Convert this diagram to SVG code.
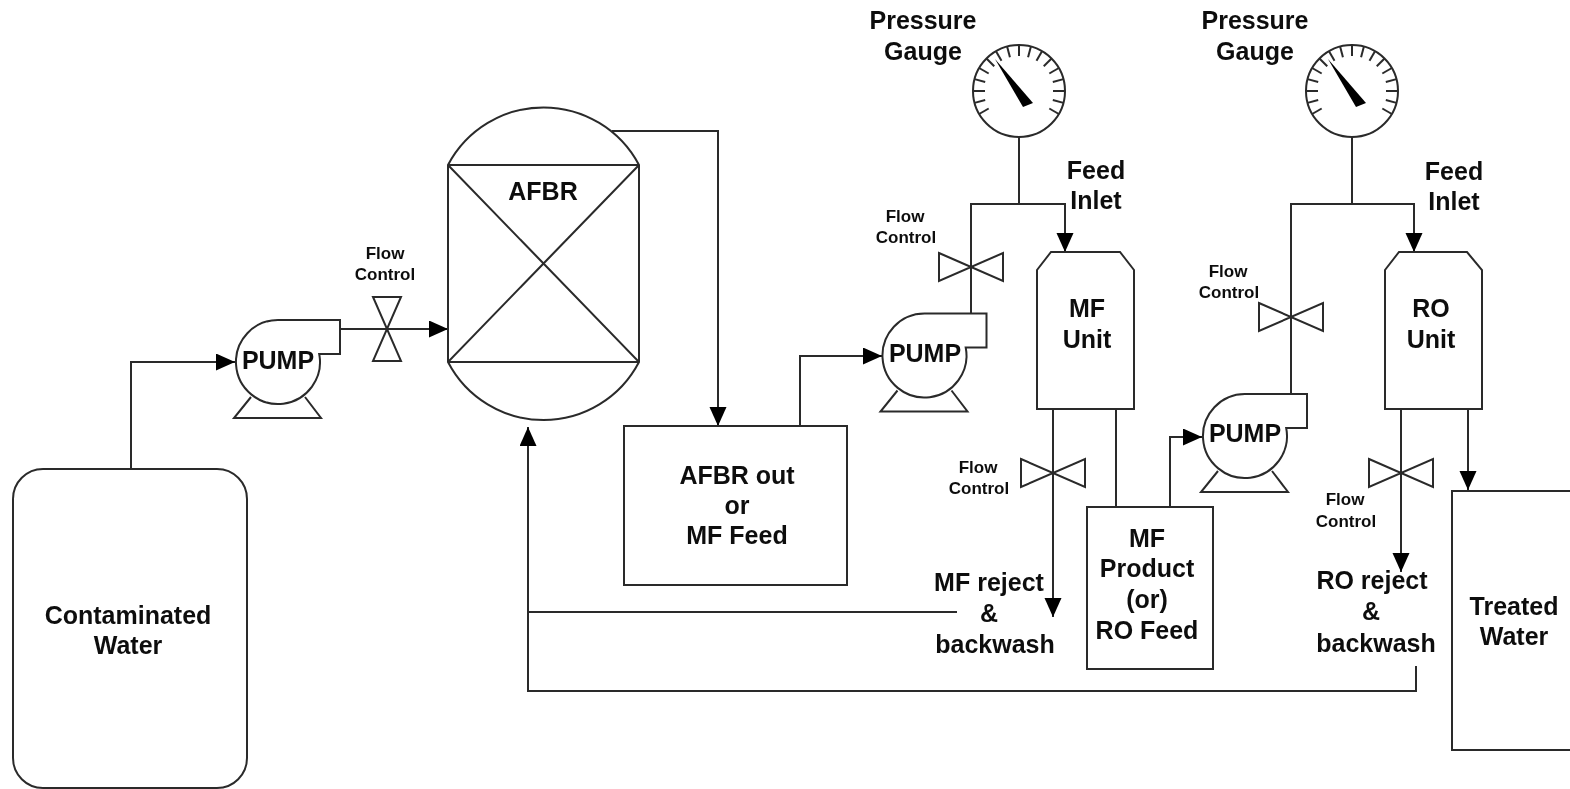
<svg xmlns="http://www.w3.org/2000/svg" width="1570" height="789" viewBox="0 0 1570 789">
<style>
.s{fill:none;stroke:#2a2a2a;stroke-width:2}
text{font-family:"Liberation Sans",Arial,sans-serif;font-weight:700;fill:#111;text-anchor:middle}
.l{font-size:25px}
.f{font-size:17px}
</style>
<defs>
<filter id="soft" filterUnits="userSpaceOnUse" x="0" y="0" width="1570" height="789"><feGaussianBlur stdDeviation="0.55"/></filter>
<marker id="a" markerUnits="userSpaceOnUse" markerWidth="20" markerHeight="18" refX="19" refY="8.500" orient="auto"><path d="M0 0L19 8.500L0 17Z" fill="#000"/></marker>
<g id="pump">
<path class="s" d="M0-42H62V-8H41.200A42 42 0 1 1 0-42Z"/>
<path class="s" d="M-27 35L-44 56H43L27 35"/>
</g>
<g id="gauge">
<circle class="s" r="46"/>
<path id="t" class="s" d="M0-46V-35"/>
<use href="#t" transform="rotate(15)"/><use href="#t" transform="rotate(30)"/><use href="#t" transform="rotate(45)"/><use href="#t" transform="rotate(60)"/><use href="#t" transform="rotate(75)"/><path class="s" d="M34 0H46"/><use href="#t" transform="rotate(105)"/><use href="#t" transform="rotate(120)"/>
<use href="#t" transform="rotate(-15)"/><use href="#t" transform="rotate(-30)"/><use href="#t" transform="rotate(-45)"/><use href="#t" transform="rotate(-60)"/><use href="#t" transform="rotate(-75)"/><path class="s" d="M-34 0H-46"/><use href="#t" transform="rotate(-105)"/><use href="#t" transform="rotate(-120)"/>
<path d="M-24-32L14 12L4 16Z" fill="#000"/>
</g>
<path id="vh" class="s" d="M-32-14L32 14V-14L-32 14Z"/>
<path id="vv" class="s" d="M-14-32H14L-14 32H14Z"/>
</defs>
<g id="diagram" filter="url(#soft)">
<g id="connectors" class="s">
<path d="M131 469V362H235" marker-end="url(#a)"/>
<path d="M340 329H448" marker-end="url(#a)"/>
<path d="M612 131H718V426" marker-end="url(#a)"/>
<path d="M800 426V356H882" marker-end="url(#a)"/>
<path d="M971 313V204H1065V252" marker-end="url(#a)"/>
<path d="M1019 136V204"/>
<path d="M1291 394V204H1414V252" marker-end="url(#a)"/>
<path d="M1352 136V204"/>
<path d="M1053 409V617" marker-end="url(#a)"/>
<path d="M1116 409V507"/>
<path d="M1170 507V437H1202" marker-end="url(#a)"/>
<path d="M1401 409V572" marker-end="url(#a)"/>
<path d="M1468 409V490" marker-end="url(#a)"/>
<path d="M957 612H528V427" marker-end="url(#a)"/>
<path d="M1416 666V691H528V612"/>
</g>

<g id="contaminated"><rect class="s" x="13" y="469" width="234" height="319" rx="30"/><text class="l" x="128" y="624">Contaminated</text><text class="l" x="128" y="654">Water</text></g>
<g id="pump1"><use href="#pump" x="278" y="362"/><text class="l" x="278" y="369">PUMP</text></g>
<g id="valve1"><use href="#vv" x="387" y="329"/><text class="f" x="385" y="259">Flow</text><text class="f" x="385" y="280">Control</text></g>
<g id="afbr"><path class="s" d="M448 165A108 108 0 0 1 639 165V362A107.600 107.600 0 0 1 448 362ZM448 165H639M448 362H639M448 165L639 362M639 165L448 362"/><text class="l" x="543" y="200">AFBR</text></g>
<g id="afbrout"><rect class="s" x="624" y="426" width="223" height="159"/><text class="l" x="737" y="484">AFBR out</text><text class="l" x="737" y="514">or</text><text class="l" x="737" y="544">MF Feed</text></g>
<g id="pump2"><use href="#pump" x="924.500" y="355.500"/><text class="l" x="925" y="362">PUMP</text></g>
<g id="valve2"><use href="#vh" x="971" y="267"/><text class="f" x="905" y="222">Flow</text><text class="f" x="906" y="243">Control</text></g>
<g id="gauge1"><use href="#gauge" x="1019" y="91"/><text class="l" x="923" y="29">Pressure</text><text class="l" x="923" y="60">Gauge</text></g>
<g id="feed1"><text class="l" x="1096" y="179">Feed</text><text class="l" x="1096" y="209">Inlet</text></g>
<g id="mf"><path class="s" d="M1051 252H1120L1134 270V409H1037V270Z"/><text class="l" x="1087" y="317">MF</text><text class="l" x="1087" y="348">Unit</text></g>
<g id="valve4"><use href="#vh" x="1053" y="473"/><text class="f" x="978" y="473">Flow</text><text class="f" x="979" y="494">Control</text></g>
<g id="mfreject"><text class="l" x="989" y="591">MF reject</text><text class="l" x="989" y="622">&amp;</text><text class="l" x="995" y="653">backwash</text></g>
<g id="mfproduct"><rect class="s" x="1087" y="507" width="126" height="162"/><text class="l" x="1147" y="547">MF</text><text class="l" x="1147" y="577">Product</text><text class="l" x="1147" y="608">(or)</text><text class="l" x="1147" y="639">RO Feed</text></g>
<g id="pump3"><use href="#pump" x="1245" y="436"/><text class="l" x="1245" y="442">PUMP</text></g>
<g id="valve3"><use href="#vh" x="1291" y="317"/><text class="f" x="1228" y="277">Flow</text><text class="f" x="1229" y="298">Control</text></g>
<g id="gauge2"><use href="#gauge" x="1352" y="91"/><text class="l" x="1255" y="29">Pressure</text><text class="l" x="1255" y="60">Gauge</text></g>
<g id="feed2"><text class="l" x="1454" y="180">Feed</text><text class="l" x="1454" y="210">Inlet</text></g>
<g id="ro"><path class="s" d="M1399 252H1467L1482 270V409H1385V270Z"/><text class="l" x="1431" y="317">RO</text><text class="l" x="1431" y="348">Unit</text></g>
<g id="valve5"><use href="#vh" x="1401" y="473"/><text class="f" x="1345" y="505">Flow</text><text class="f" x="1346" y="527">Control</text></g>
<g id="roreject"><text class="l" x="1372" y="589">RO reject</text><text class="l" x="1371" y="620">&amp;</text><text class="l" x="1376" y="652">backwash</text></g>
<g id="treated"><path class="s" d="M1571 491H1452V750H1571"/><text class="l" x="1514" y="615">Treated</text><text class="l" x="1514" y="645">Water</text></g>
</g>
</svg>
